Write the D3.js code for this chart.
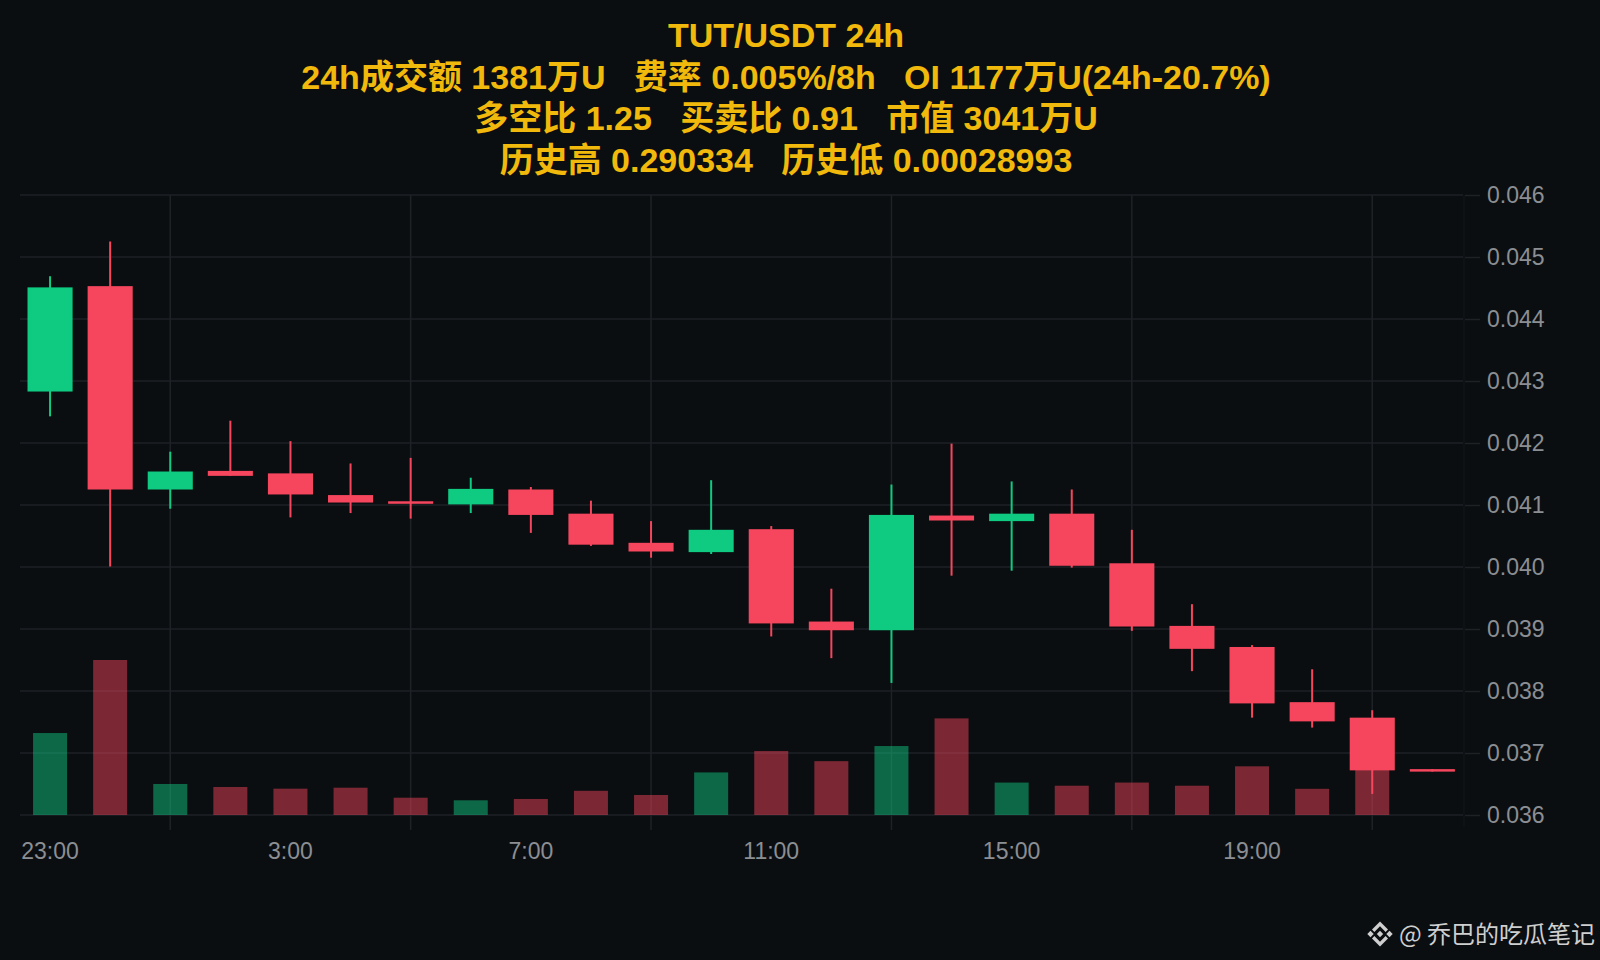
<!DOCTYPE html>
<html>
<head>
<meta charset="utf-8">
<script src="https://cdn.jsdelivr.net/npm/d3@7"></script>
<style>
html,body{margin:0;padding:0;background:#0b0e11;}
svg{display:block;}
</style>
</head>
<body>
<svg id="chart" width="1600" height="960"></svg>
<script>
// ---------- data ----------
const hours = ["23:00","0:00","1:00","2:00","3:00","4:00","5:00","6:00","7:00","8:00","9:00","10:00",
               "11:00","12:00","13:00","14:00","15:00","16:00","17:00","18:00","19:00","20:00","21:00","22:00"];
const opens  = [0.04283,0.04453,0.04125,0.04155,0.04151,0.04116,0.04106,0.04101,0.04125,0.04086,0.04039,0.04024,
                0.04061,0.03912,0.03898,0.04083,0.04074,0.04086,0.04006,0.03905,0.03871,0.03782,0.03757,0.03674];
const highs  = [0.04469,0.04525,0.04186,0.04236,0.04203,0.04167,0.04176,0.04144,0.04129,0.04107,0.04074,0.04140,
                0.04066,0.03965,0.04133,0.04199,0.04138,0.04125,0.04060,0.03940,0.03874,0.03835,0.03769,0.03674];
const lows   = [0.04243,0.04001,0.04094,0.04147,0.04080,0.04087,0.04078,0.04087,0.04055,0.04034,0.04015,0.04021,
                0.03888,0.03853,0.03813,0.03986,0.03994,0.03999,0.03897,0.03832,0.03757,0.03741,0.03634,0.03670];
const closes = [0.04451,0.04125,0.04154,0.04147,0.04117,0.04104,0.04103,0.04126,0.04084,0.04036,0.04025,0.04060,
                0.03909,0.03898,0.04084,0.04075,0.04086,0.04002,0.03904,0.03868,0.03780,0.03751,0.03672,0.03670];
// volume in 万U
const volumes = [111.5,210.8,42.2,38.1,35.8,37.1,23.5,20.0,21.8,32.9,27.2,57.9,
                 87.0,73.2,93.8,131.4,44.1,39.8,44.1,39.8,66.2,35.6,68.0,0];
const priceTicks = [0.036,0.037,0.038,0.039,0.040,0.041,0.042,0.043,0.044,0.045,0.046];
const labelHours = ["23:00","3:00","7:00","11:00","15:00","19:00"];
const gridHours  = ["1:00","5:00","9:00","13:00","17:00","21:00"];
const titleLines = [
  "TUT/USDT 24h",
  "24h成交额 1381万U   费率 0.005%/8h   OI 1177万U(24h-20.7%)",
  "多空比 1.25   买卖比 0.91   市值 3041万U",
  "历史高 0.290334   历史低 0.00028993"
];
const watermark = "@ 乔巴的吃瓜笔记";

// ---------- layout ----------
const W = 1600, H = 960;
const pLeft = 20, pRight = 1462.4, pTop = 195, pBottom = 815;
const UP = "#0ecb81", DOWN = "#f6465d";
const GRID = "#1e2227";
const LABEL = "#8b8e93";
const FONT = "'Liberation Sans', Arial, 'Noto Sans CJK SC', sans-serif";

const svg = d3.select("#chart");
svg.append("rect").attr("width", W).attr("height", H).attr("fill", "#0b0e11");

const x = d3.scaleBand().domain(hours).range([pLeft, pRight]).paddingInner(0.25).paddingOuter(0.125);
const y = d3.scaleLinear().domain([0.036, 0.046]).range([pBottom, pTop]);
const vMax = d3.max(volumes);
const yv = d3.scaleLinear().domain([0, vMax]).range([pBottom, pBottom - (pBottom - pTop) * 0.25]);
const cx = h => x(h) + x.bandwidth() / 2;

// ---------- grid ----------
const g = svg.append("g");
g.selectAll("line.h").data(priceTicks).join("line")
  .attr("x1", pLeft).attr("x2", 1463)
  .attr("y1", d => y(d)).attr("y2", d => y(d))
  .attr("stroke", GRID).attr("stroke-width", 1.5);
g.selectAll("line.v").data(gridHours).join("line")
  .attr("x1", d => cx(d)).attr("x2", d => cx(d))
  .attr("y1", pTop).attr("y2", pBottom + 15)
  .attr("stroke", GRID).attr("stroke-width", 1.5);
g.append("line").attr("x1", 1464).attr("x2", 1464).attr("y1", pTop).attr("y2", pBottom + 12)
  .attr("stroke", "#14171b").attr("stroke-width", 1);

// ---------- y axis ----------
const yAxis = d3.axisRight(y).tickValues(priceTicks).tickFormat(d3.format(".3f")).tickSize(15).tickPadding(7);
const ya = svg.append("g").attr("transform", "translate(1465,0)").call(yAxis);
ya.select(".domain").remove();
ya.selectAll(".tick line").attr("stroke", GRID).attr("stroke-width", 1.5);
ya.selectAll(".tick text").attr("fill", LABEL).attr("font-size", 23).attr("font-family", FONT);

// ---------- x labels ----------
svg.append("g").selectAll("text").data(labelHours).join("text")
  .attr("x", d => cx(d)).attr("y", 859)
  .attr("text-anchor", "middle")
  .attr("fill", LABEL).attr("font-size", 23).attr("font-family", FONT)
  .text(d => d);

// ---------- volumes ----------
const candles = hours.map((h, i) => ({h, o: opens[i], hi: highs[i], lo: lows[i], c: closes[i], v: volumes[i]}));
const vw = 34;
svg.append("g").selectAll("rect").data(candles.filter(d => d.v > 0)).join("rect")
  .attr("x", d => cx(d.h) - vw / 2).attr("width", vw)
  .attr("y", d => yv(d.v)).attr("height", d => pBottom - yv(d.v))
  .attr("fill", d => d.c >= d.o ? UP : DOWN).attr("fill-opacity", 0.48);

// ---------- candles ----------
const cg = svg.append("g");
cg.selectAll("line").data(candles).join("line")
  .attr("x1", d => cx(d.h)).attr("x2", d => cx(d.h))
  .attr("y1", d => y(d.hi)).attr("y2", d => y(d.lo))
  .attr("stroke", d => d.c >= d.o ? UP : DOWN).attr("stroke-width", 2);
cg.selectAll("rect").data(candles).join("rect")
  .attr("x", d => x(d.h)).attr("width", x.bandwidth())
  .attr("y", d => y(Math.max(d.o, d.c)))
  .attr("height", d => Math.max(2.5, Math.abs(y(d.o) - y(d.c))))
  .attr("fill", d => d.c >= d.o ? UP : DOWN);

// ---------- title ----------
const tBase = [47, 88.5, 130, 171.5];
svg.append("g").selectAll("text").data(titleLines).join("text")
  .attr("x", 786).attr("y", (d, i) => tBase[i])
  .attr("text-anchor", "middle")
  .attr("fill", "#f0b90b").attr("font-weight", "bold")
  .attr("font-size", 34).attr("font-family", FONT)
  .style("white-space", "pre")
  .text(d => d);

// ---------- watermark ----------
const wm = svg.append("g").attr("transform", "translate(1380,934)");
const logoCol = "#cfcfcf";
const lg = wm.append("g");
const dia = (cxp, cyp, r) => `M${cxp},${cyp - r}L${cxp + r},${cyp}L${cxp},${cyp + r}L${cxp - r},${cyp}Z`;
lg.append("path").attr("d", dia(0, 0, 3.2)).attr("fill", logoCol);
lg.append("path").attr("d", dia(-9.5, 0, 3.2)).attr("fill", logoCol);
lg.append("path").attr("d", dia(9.5, 0, 3.2)).attr("fill", logoCol);
lg.append("path").attr("d", "M-8,-4.5L0,-12.5L8,-4.5L5.6,-2.1L0,-7.7L-5.6,-2.1Z").attr("fill", logoCol);
lg.append("path").attr("d", "M-8,4.5L0,12.5L8,4.5L5.6,2.1L0,7.7L-5.6,2.1Z").attr("fill", logoCol);
wm.append("text").attr("x", 19).attr("y", 8.5)
  .attr("fill", logoCol).attr("font-size", 24).attr("font-family", "'Noto Sans CJK SC', sans-serif")
  .style("white-space", "pre")
  .text(watermark);
</script>
</body>
</html>
